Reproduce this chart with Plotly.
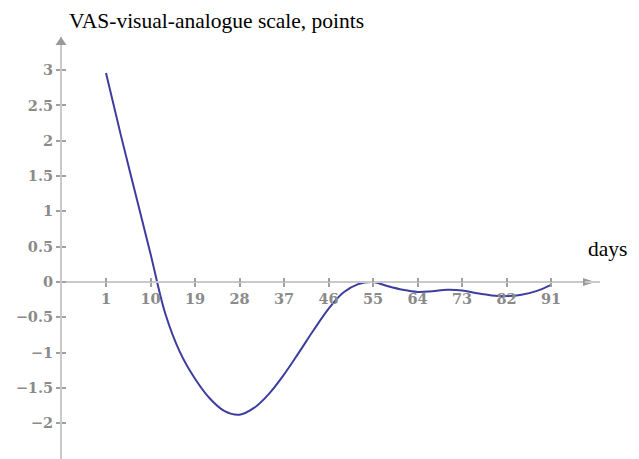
import plotly.graph_objects as go

days = [1, 4, 7, 10, 13, 16, 19, 22, 25, 28, 31, 34, 37, 40, 43, 46, 49, 52, 55,
        58, 61, 64, 67, 70, 73, 76, 79, 82, 85, 88, 91]
vas = [2.96, 2.08, 1.24, 0.40, -0.45, -1.00, -1.37, -1.65, -1.83, -1.88, -1.78,
       -1.58, -1.31, -1.00, -0.68, -0.38, -0.15, -0.03, 0.0, -0.06, -0.11, -0.14,
       -0.13, -0.11, -0.12, -0.16, -0.19, -0.20, -0.18, -0.13, -0.04]

x_ticks = [1, 10, 19, 28, 37, 46, 55, 64, 73, 82, 91]
y_ticks = [-2, -1.5, -1, -0.5, 0, 0.5, 1, 1.5, 2, 2.5, 3]
y_tick_text = ["\u22122", "\u22121.5", "\u22121", "\u22120.5", "0", "0.5", "1", "1.5", "2", "2.5", "3"]

y_title = "VAS-visual-analogue scale, points"
x_title = "days"

W, H = 639, 459
ML, MR, MT, MB = 61, 39, 37, 0
PW, PH = W - ML - MR, H - MT - MB
x_range = [-8.1, 100.9]
y_range = [-2.507, 3.47]
x_axis_pos = (0 - y_range[0]) / (y_range[1] - y_range[0])

serif = "Liberation Serif, Times New Roman, serif"
tick_font = dict(family="DejaVu Serif", size=14.5, color="#8a8a8a", weight="bold")
axis_col = "#c9c9c9"
tick_col = "#a0a0a0"

fig = go.Figure()
fig.add_trace(go.Scatter(x=days, y=vas, mode="lines",
                         line=dict(color="#3d3d9e", width=2, shape="spline", smoothing=1),
                         hoverinfo="skip", showlegend=False))
fig.add_trace(go.Scatter(x=[None], y=[None], xaxis="x2", yaxis="y2", showlegend=False))

fig.update_layout(
    width=W, height=H, margin=dict(l=ML, r=MR, t=MT, b=MB),
    plot_bgcolor="white", paper_bgcolor="white",
    xaxis=dict(range=x_range, tickvals=x_ticks, ticktext=[str(t) for t in x_ticks],
               anchor="free", position=x_axis_pos, showline=True, linecolor=axis_col, linewidth=2,
               ticks="outside", ticklen=4, tickwidth=1.5, tickcolor=tick_col,
               tickfont=tick_font, showgrid=False, zeroline=False),
    yaxis=dict(range=y_range, tickvals=y_ticks, ticktext=y_tick_text,
               anchor="free", position=0, showline=True, linecolor=axis_col, linewidth=2,
               ticks="outside", ticklen=4, tickwidth=1.5, tickcolor=tick_col,
               tickfont=tick_font, showgrid=False, zeroline=False),
    xaxis2=dict(range=x_range, overlaying="x", anchor="free", position=x_axis_pos,
                tickvals=x_ticks, ticks="inside", ticklen=4, tickwidth=1.5, tickcolor=tick_col,
                showticklabels=False, showgrid=False, zeroline=False, showline=False),
    yaxis2=dict(range=y_range, overlaying="y", anchor="free", position=0,
                tickvals=y_ticks, ticks="inside", ticklen=4, tickwidth=1.5, tickcolor=tick_col,
                showticklabels=False, showgrid=False, zeroline=False, showline=False),
    annotations=[
        dict(text=y_title, xref="paper", yref="paper", x=(67 - ML) / PW, y=(H - 21 - MB) / PH,
             xanchor="left", yanchor="middle", showarrow=False,
             font=dict(family=serif, size=21.5, color="black")),
        dict(text=x_title, xref="paper", yref="paper", x=(586 - ML) / PW, y=(H - 249 - MB) / PH,
             xanchor="left", yanchor="middle", showarrow=False,
             font=dict(family=serif, size=21.5, color="black")),
    ],
    shapes=[
        dict(type="path", xref="paper", yref="paper", xsizemode="pixel", ysizemode="pixel",
             xanchor=0, yanchor=1, path="M -5.5 -8 L 5.5 -8 L 0 0 Z",
             fillcolor="#999999", line=dict(width=0)),
        dict(type="path", xref="paper", yref="paper", xsizemode="pixel", ysizemode="pixel",
             xanchor=(595 - ML) / PW, yanchor=x_axis_pos, path="M -12 -4 L -12 4 L 0 0 Z",
             fillcolor="#999999", line=dict(width=0)),
        dict(type="line", xref="paper", yref="paper", x0=1, x1=(585 - ML) / PW,
             y0=x_axis_pos, y1=x_axis_pos, line=dict(color=axis_col, width=2)),
    ],
)

fig.write_html("out.html")
